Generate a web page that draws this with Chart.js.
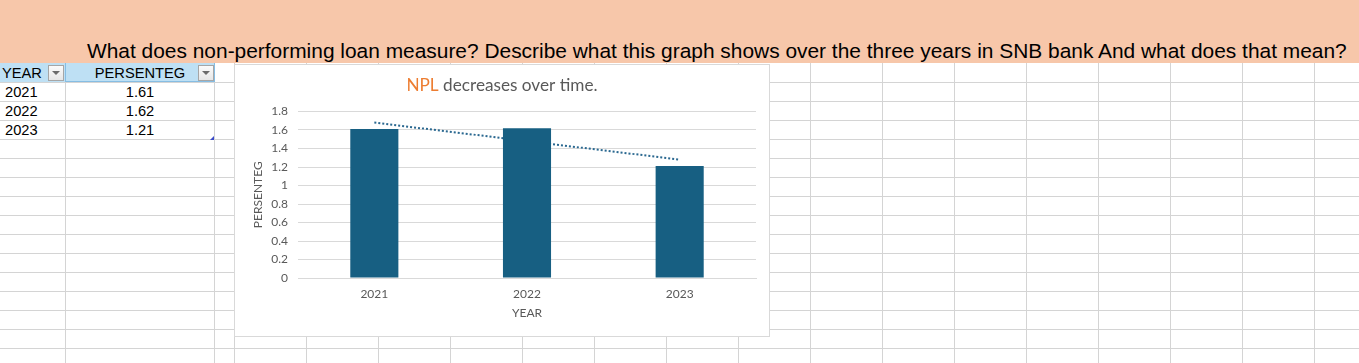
<!DOCTYPE html>
<html><head><meta charset="utf-8">
<script src="https://cdn.jsdelivr.net/npm/chart.js@4"></script>
<style>
html,body{margin:0;padding:0;}
body{width:1359px;height:363px;overflow:hidden;background:#fff;position:relative;font-family:'Liberation Sans',Arial,sans-serif;}
#band{position:absolute;left:0;top:0;width:1359px;height:63px;background:#F7C7AA;}
#question{position:absolute;left:87px;top:41px;font-size:21px;line-height:21px;white-space:nowrap;color:#000;}
.h{position:absolute;left:0;width:1359px;height:1px;background:#d4d4d4;}
.v{position:absolute;top:63px;height:300px;width:1px;background:#d4d4d4;}
.hdr{position:absolute;top:63px;height:19px;background:#BEE0F4;}
.cell{position:absolute;font-size:14.67px;line-height:14.67px;white-space:nowrap;color:#000;}
.btn{position:absolute;top:65px;width:14px;height:14px;border:1px solid #a6a6a6;background:linear-gradient(#fbfbfb,#e6e6e6);}
.btn:after{content:'';position:absolute;left:3px;top:5px;border-left:4px solid transparent;border-right:4px solid transparent;border-top:4px solid #6b6b6b;}
#chartBox{position:absolute;left:234px;top:64px;width:536px;height:273px;background:#fff;}
#chartBorder{position:absolute;left:234px;top:64px;width:536px;height:273px;box-sizing:border-box;border:1px solid #d9d9d9;}
#handle{position:absolute;left:210px;top:136px;width:0;height:0;border-left:4px solid transparent;border-bottom:4px solid #3b4bc8;}
</style>
</head><body>
<div id="band"></div>
<div id="question">What does non-performing loan measure? Describe what this graph shows over the three years in SNB bank And what does that mean?</div>
<div id="grid"></div>
<div id="table"></div>
<div id="chartBox"><canvas id="c" width="536" height="273"></canvas></div>
<div id="chartBorder"></div>
<div id="handle"></div>
<script>
// ---- data ----
const categories = ['2021', '2022', '2023'];
const persenteg = [1.61, 1.62, 1.21];
const persentegText = ['1.61', '1.62', '1.21'];
const trendValues = [1.68, 1.48, 1.28];   // linear trendline
const yTickLabels = ['0', '0.2', '0.4', '0.6', '0.8', '1', '1.2', '1.4', '1.6', '1.8'];
const tableHeaders = ['YEAR', 'PERSENTEG'];
const titleParts = ['NPL', ' decreases over time.'];
const xTitle = 'YEAR';
const yTitle = 'PERSENTEG';

// ---- spreadsheet grid ----
const grid = document.getElementById('grid');
let html = '';
for (let k = 0; k <= 14; k++) html += '<div class="h" style="top:' + (82 + 19 * k) + 'px"></div>';
const vx = [65, 214];
for (let k = 0; k <= 15; k++) vx.push(234 + 72 * k);
vx.forEach(x => html += '<div class="v" style="left:' + x + 'px"></div>');
grid.innerHTML = html;

// ---- table ----
const table = document.getElementById('table');
let t = '';
t += '<div class="hdr" style="left:0;width:65px"></div>';
t += '<div class="hdr" style="left:65px;width:150px;box-sizing:border-box;border:1px solid #86bde3;border-top:none"></div>';
t += '<div class="cell" style="left:2px;top:66px">' + tableHeaders[0] + '</div>';
t += '<div class="cell" style="left:65px;width:150px;text-align:center;top:66px">' + tableHeaders[1] + '</div>';
t += '<div class="btn" style="left:48px"></div>';
t += '<div class="btn" style="left:198px"></div>';
categories.forEach((c, i) => {
  const top = 85 + 19 * i;
  t += '<div class="cell" style="left:5px;top:' + top + 'px">' + c + '</div>';
  t += '<div class="cell" style="left:65px;width:150px;text-align:center;top:' + top + 'px">' + persentegText[i] + '</div>';
});
table.innerHTML = t;

// fit question text width (layout only)
const q = document.getElementById('question');
const targetW = 1261;
const w0 = q.getBoundingClientRect().width;
const f = 21 * targetW / w0;
q.style.fontSize = f + 'px';
q.style.lineHeight = f + 'px';
q.style.top = (59 - 0.8465 * f) + 'px';

// ---- chart ----
const gray = '#595959';
const titlePlugin = {
  id: 'twoColorTitle',
  afterDraw(chart) {
    const ctx = chart.ctx;
    ctx.save();
    ctx.font = '17.2px Lato';
    ctx.textBaseline = 'alphabetic';
    const wa = ctx.measureText(titleParts[0]).width;
    const wb = ctx.measureText(titleParts[1]).width;
    const x0 = chart.width / 2 - (wa + wb) / 2;
    ctx.fillStyle = '#ED7D31';
    ctx.fillText(titleParts[0], x0, 27);
    ctx.fillStyle = gray;
    ctx.fillText(titleParts[1], x0 + wa, 27);
    ctx.restore();
  }
};

new Chart(document.getElementById('c'), {
  type: 'bar',
  data: {
    labels: categories,
    datasets: [
      {
        type: 'bar', label: 'PERSENTEG', data: persenteg,
        backgroundColor: '#175F82', borderWidth: 0,
        barPercentage: 0.315, categoryPercentage: 1, order: 1
      },
      {
        type: 'line', label: 'Linear (PERSENTEG)', data: trendValues,
        borderColor: '#2A6890', borderWidth: 2, borderDash: [2, 2],
        pointRadius: 0, fill: false, tension: 0, order: 2
      }
    ]
  },
  options: {
    responsive: false, animation: false,
    layout: { padding: { top: 47.5, left: 13, right: 14, bottom: 0 } },
    plugins: { legend: { display: false }, title: { display: false }, tooltip: { enabled: false } },
    scales: {
      x: {
        grid: { display: false, drawTicks: false },
        border: { display: true, color: '#d9d9d9' },
        ticks: { color: gray, font: { family: 'Lato', size: 12 }, padding: 9 },
        title: { display: true, text: xTitle, color: gray, font: { family: 'Lato', size: 12 }, padding: { top: 4, bottom: 17 } },
        afterFit(s) { s.height = 59; }
      },
      y: {
        min: 0, max: 1.8,
        grid: { color: '#d9d9d9', drawTicks: false },
        border: { display: false },
        ticks: {
          stepSize: 0.2, color: gray, font: { family: 'Lato', size: 12 }, padding: 10,
          callback: (v, i) => yTickLabels[i]
        },
        title: { display: true, text: yTitle, color: gray, font: { family: 'Lato', size: 12 }, padding: { top: 4, bottom: 4 } },
        afterFit(s) { s.width = 51; }
      }
    }
  },
  plugins: [titlePlugin]
});
</script>
</body></html>
